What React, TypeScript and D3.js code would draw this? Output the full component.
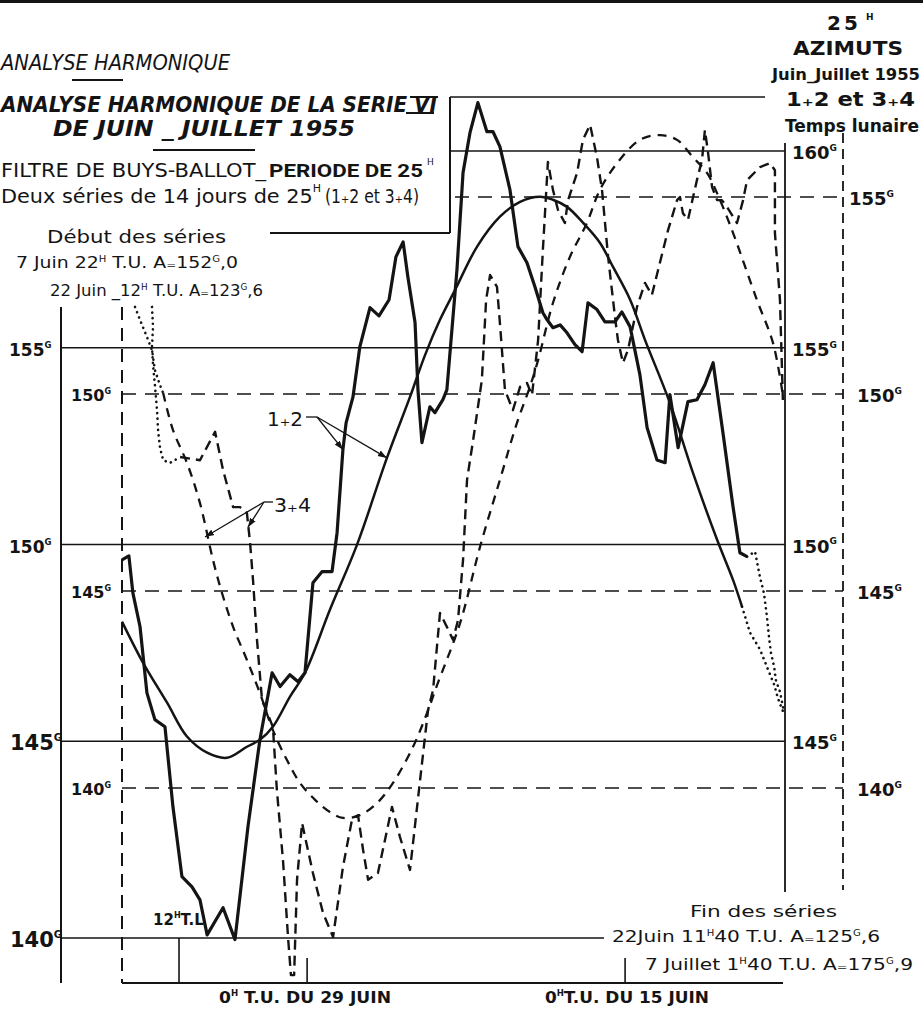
import React from "react";
import * as d3 from "d3";

type P = [number, number];

// x = lunar hours since the start of the 25h period, y = azimuth in grades
// Series 1+2 (left / solid scale)
const obs12: P[] = [
  [0, 149.61], [0.26, 149.71], [0.41, 148.77], [0.68, 147.91], [0.94, 146.23], [1.24, 145.55],
  [1.62, 145.37], [1.92, 143.34], [2.26, 141.56], [2.64, 141.3], [2.94, 140.97], [3.21, 140.08],
  [3.81, 140.77], [4.26, 139.96], [4.75, 142.83], [5.2, 145.04], [5.66, 146.74], [5.96, 146.39],
  [6.33, 146.69], [6.64, 146.51], [6.9, 146.74], [7.2, 149.03], [7.54, 149.31], [7.92, 149.31],
  [8.11, 150.3], [8.33, 152.41], [8.45, 153.09], [8.71, 153.75], [8.97, 155.03], [9.35, 156.02],
  [9.69, 155.81], [10.07, 156.22], [10.33, 157.31], [10.6, 157.69], [10.78, 156.8], [11.05, 155.64],
  [11.16, 153.93], [11.31, 152.59], [11.61, 153.5], [11.8, 153.35], [12.1, 153.68], [12.25, 153.93],
  [12.63, 156.98], [12.86, 159.45], [13.12, 160.46], [13.42, 161.23], [13.76, 160.49], [13.99, 160.49],
  [14.25, 160.11], [14.63, 159.01], [14.93, 157.57], [15.27, 157.16], [15.57, 156.55], [15.87, 155.89],
  [16.03, 155.71], [16.25, 155.51], [16.52, 155.58], [16.78, 155.38], [17.08, 155.08], [17.35, 154.9],
  [17.57, 156.14], [17.91, 155.97], [18.21, 155.66], [18.59, 155.66], [18.85, 155.91], [19.16, 155.53],
  [19.53, 154.31], [19.8, 152.97], [20.17, 152.15], [20.48, 152.08], [20.66, 153.81], [20.97, 152.46],
  [21.34, 153.63], [21.68, 153.68], [21.98, 154.06], [22.29, 154.62], [22.66, 152.84], [23.04, 150.96],
  [23.3, 149.79], [23.57, 149.69],
];
const obs12End: P[] = [
  [23.57, 149.69], [23.87, 149.82], [24.06, 149.16], [24.21, 148.75], [24.32, 148.16], [24.4, 147.63],
  [24.47, 147.25], [24.59, 146.89], [24.66, 146.54], [24.81, 146.26], [24.96, 145.75],
];
const fit12: P[] = [
  [0, 148.04], [0.79, 147.0], [1.7, 145.98], [2.45, 145.12], [3.21, 144.71], [3.96, 144.58],
  [4.71, 144.86], [5.2, 145.04], [5.69, 145.37], [6.33, 146.13], [6.9, 146.74], [7.84, 148.34],
  [8.86, 149.99], [9.99, 152.2], [10.86, 153.75], [11.43, 154.82], [11.99, 155.71], [12.56, 156.47],
  [13.39, 157.57], [14.25, 158.33], [15.01, 158.71], [15.76, 158.84], [16.25, 158.76], [16.78, 158.58],
  [17.38, 158.18], [18.02, 157.67], [18.51, 157.06], [19.16, 156.22], [19.72, 155.2], [20.66, 153.6],
  [21.53, 151.82], [22.44, 150.12], [23.04, 149.1], [23.38, 148.42],
];
const fit12End: P[] = [
  [23.38, 148.42], [23.68, 147.76], [24.06, 147.33], [24.32, 146.89], [24.59, 146.44], [24.74, 146.08],
  [24.96, 145.7],
];

// Series 3+4 (inner / dashed scale)
const obs34Start: P[] = [
  [1.13, 152.21], [1.17, 151.7], [1.13, 151.19], [1.17, 150.74], [1.24, 150.23], [1.32, 149.59],
  [1.36, 149.09], [1.43, 148.65], [1.55, 148.32], [1.81, 148.25], [2.19, 148.4],
];
const obs34: P[] = [
  [2.19, 148.4], [2.94, 148.32], [3.51, 149.04], [3.81, 148.07], [4.19, 147.13], [4.45, 147.13],
  [4.71, 146.98], [4.83, 146.22], [4.94, 145.28], [5.09, 143.76], [5.28, 142.23], [5.69, 141.55],
  [5.84, 139.95], [6.07, 138.17], [6.26, 136.22], [6.37, 135.25], [6.49, 135.25], [6.6, 137.67],
  [6.79, 139.11], [7.2, 137.84], [7.58, 136.83], [7.96, 136.22], [8.33, 137.99], [8.67, 139.19],
  [8.9, 139.31], [9.09, 138.43], [9.28, 137.67], [9.65, 137.84], [10.18, 139.52], [10.48, 138.76],
  [10.86, 137.92], [11.24, 140.2], [11.54, 141.98], [11.73, 142.49], [11.99, 144.44], [12.25, 144.09],
  [12.48, 143.76], [12.67, 144.26], [12.86, 145.79], [13.01, 147.82], [13.24, 148.83], [13.57, 150.36],
  [13.73, 152.39], [13.88, 153.02], [14.14, 152.72], [14.25, 151.8], [14.44, 150.1], [14.74, 149.59],
  [15.01, 150.18], [15.27, 150.28], [15.46, 149.97], [15.69, 151.37], [15.87, 153.65], [16.06, 155.89],
  [16.25, 155.18], [16.44, 154.67], [16.7, 154.34], [16.82, 154.92], [17.16, 155.61], [17.38, 156.45],
  [17.65, 156.83], [17.91, 156.01], [18.1, 155.18], [18.33, 153.48], [18.59, 151.95], [18.7, 151.37],
  [18.89, 150.79], [19.08, 151.12], [19.42, 152.21], [19.72, 152.82], [19.98, 152.51], [20.29, 153.35],
  [20.59, 154.16], [20.93, 154.92], [21.04, 155.0], [21.15, 154.59], [21.34, 154.42], [21.68, 155.43],
  [21.87, 155.94], [21.98, 156.7], [22.1, 156.12], [22.25, 155.25], [22.44, 154.92], [22.62, 154.92],
  [22.81, 154.75], [23.19, 154.34], [23.42, 154.92], [23.57, 155.43], [24.06, 155.76], [24.43, 155.86],
  [24.62, 155.68], [24.62, 154.09], [24.81, 152.39], [24.92, 149.85],
];
const fit34Start: P[] = [
  [0.49, 152.21], [0.68, 151.88], [0.94, 151.45], [1.13, 151.12], [1.24, 150.61], [1.43, 150.23],
  [1.55, 150.03],
];
const fit34: P[] = [
  [1.55, 150.03], [1.92, 149.09], [2.45, 148.25], [2.94, 147.23], [3.43, 145.79], [3.77, 144.95],
  [4.19, 144.09], [4.71, 143.25], [5.2, 142.41], [5.69, 141.47], [6.22, 140.71], [6.71, 140.13],
  [7.28, 139.7], [7.84, 139.39], [8.33, 139.24], [8.97, 139.31], [9.62, 139.62], [10.22, 140.13],
  [10.97, 141.04], [11.5, 141.9], [11.88, 142.61], [12.75, 144.19], [13.5, 146.12], [14.25, 147.82],
  [14.89, 149.26], [15.38, 150.18], [15.69, 150.86], [16.25, 152.31], [16.89, 153.48], [17.53, 154.34],
  [18.02, 155.18], [18.67, 155.86], [19.53, 156.45], [20.29, 156.57], [20.93, 156.45], [21.53, 156.01],
  [22.06, 155.61], [22.55, 154.92], [23.04, 154.09], [23.94, 152.39], [24.55, 151.29], [24.92, 149.97],
];

const solidTicksLeft = [155, 150, 145, 140];
const solidTicksRight = [160, 155, 150, 145];
const dashTicksLeft = [150, 145, 140];
const dashTicksRight = [155, 150, 145, 140];
const timeMarks = [2.15, 6.98, 18.97]; // 12h T.L. ; 0h T.U. du 29 juin ; 0h T.U. du 15 juin

const F = "'DejaVu Sans', sans-serif";
const INK = "#141414";

export default function App() {
  const x = d3.scaleLinear().domain([0, 25]).range([122, 785]);
  const yS = d3.scaleLinear().domain([140, 160]).range([938, 151]);
  const yD = d3.scaleLinear().domain([140, 155]).range([788, 197]);

  const lS = d3.line<P>().x((d) => x(d[0])).y((d) => yS(d[1]));
  const lD = d3.line<P>().x((d) => x(d[0])).y((d) => yD(d[1]));
  const sS = d3.line<P>().x((d) => x(d[0])).y((d) => yS(d[1])).curve(d3.curveCatmullRom.alpha(0.5));
  const sD = d3.line<P>().x((d) => x(d[0])).y((d) => yD(d[1])).curve(d3.curveCatmullRom.alpha(0.5));

  const tickLabel = (v: number, tx: number, ty: number, fs: number, weight: string | number = "bold") => (
    <text key={`${tx}-${v}`} x={tx} y={ty} fontSize={fs} fontWeight={weight} fontFamily={F} fill={INK}>
      {v}
      <tspan fontSize={fs * 0.5} dy={-fs * 0.45}>G</tspan>
    </text>
  );

  const dotted = { fill: "none", stroke: INK, strokeWidth: 2.6, strokeDasharray: "0.1 5.5", strokeLinecap: "round" as const };

  // annotation targets (on the curves)
  const a12a: P = [8.33, 152.41];
  const a12b: P = [9.99, 152.2];
  const a34a: P = [3.13, 146.37];
  const a34b: P = [4.75, 146.62];

  return (
    <svg width={923} height={1009} style={{ position: "absolute", left: 0, top: 0, display: "block", background: "#fff" }} fontFamily={F}>
      <defs>
        <marker id="arr" viewBox="0 0 10 10" refX="10" refY="5" markerWidth="7" markerHeight="7" orient="auto">
          <path d="M0,1.5 L10,5 L0,8.5 z" fill={INK} />
        </marker>
      </defs>
      <rect x={0} y={0} width={923} height={1009} fill="#fff" />
      <rect x={0} y={0} width={923} height={3} fill={INK} />

      {/* Title block */}
      <text x={1} y={70} fontSize={21} fontStyle="italic" fill={INK} textLength={229} lengthAdjust="spacingAndGlyphs">ANALYSE HARMONIQUE</text>
      <line x1={72} x2={123} y1={80} y2={80} stroke={INK} strokeWidth={2.2} />
      <text x={1} y={112} fontSize={21} fontStyle="italic" fontWeight="bold" fill={INK} textLength={436} lengthAdjust="spacingAndGlyphs">ANALYSE HARMONIQUE DE LA SERIE VI</text>
      <line x1={410} x2={438} y1={97} y2={97} stroke={INK} strokeWidth={2} />
      <line x1={406} x2={434} y1={113} y2={113} stroke={INK} strokeWidth={2} />
      <text x={53} y={136} fontSize={21} fontStyle="italic" fontWeight="bold" fill={INK} textLength={302} lengthAdjust="spacingAndGlyphs">DE JUIN _ JUILLET 1955</text>
      <line x1={153} x2={255} y1={150} y2={150} stroke={INK} strokeWidth={2.2} />
      <text x={1} y={177} fontSize={19} fill={INK} textLength={265} lengthAdjust="spacingAndGlyphs">FILTRE DE BUYS-BALLOT_</text>
      <text x={269} y={177} fontSize={19} fontWeight="bold" fontFamily="Roboto, 'DejaVu Sans', sans-serif" fill={INK} textLength={154} lengthAdjust="spacingAndGlyphs">PERIODE DE 25</text>
      <text x={427} y={165} fontSize={9} fill={INK}>H</text>
      <text x={1} y={203} fontSize={19} fill={INK} textLength={320} lengthAdjust="spacingAndGlyphs">
        Deux séries de 14 jours de 25<tspan fontSize={10} dy={-11}>H</tspan>
      </text>
      <text x={325} y={203} fontSize={19} fill={INK} textLength={94} lengthAdjust="spacingAndGlyphs">(1₊2 et 3₊4)</text>

      {/* Box lines */}
      <line x1={450} x2={450} y1={97} y2={233} stroke={INK} strokeWidth={2} />
      <line x1={270} x2={450} y1={233} y2={233} stroke={INK} strokeWidth={2} />
      <line x1={450} x2={765} y1={97} y2={97} stroke={INK} strokeWidth={1.6} />

      {/* Right title */}
      <text x={827} y={30} fontSize={20} fontWeight="bold" fill={INK} letterSpacing={3}>25</text>
      <text x={866} y={20} fontSize={9} fontWeight="bold" fill={INK}>H</text>
      <text x={793} y={55} fontSize={20} fontWeight="bold" fill={INK} textLength={110} lengthAdjust="spacingAndGlyphs">AZIMUTS</text>
      <text x={772} y={80} fontSize={15} fontWeight="bold" fill={INK} textLength={148} lengthAdjust="spacingAndGlyphs">Juin_Juillet 1955</text>
      <text x={786} y={106} fontSize={20} fontWeight="bold" fill={INK} textLength={129} lengthAdjust="spacingAndGlyphs">1₊2 et 3₊4</text>
      <text x={785} y={132} fontSize={17} fontWeight="bold" fill={INK} textLength={134} lengthAdjust="spacingAndGlyphs">Temps lunaire</text>

      {/* Start notes */}
      <text x={47} y={243} fontSize={17} fill={INK} textLength={179} lengthAdjust="spacingAndGlyphs">Début des séries</text>
      <text x={16} y={268} fontSize={15} fill={INK} textLength={222} lengthAdjust="spacingAndGlyphs">
        7 Juin 22<tspan fontSize={8} dy={-6}>H</tspan>
        <tspan dy={6}> T.U.  A₌152</tspan>
        <tspan fontSize={8} dy={-6}>G</tspan>
        <tspan dy={6}>,0</tspan>
      </text>
      <text x={50} y={296} fontSize={15} fill={INK} textLength={213} lengthAdjust="spacingAndGlyphs">
        22 Juin _12<tspan fontSize={8} dy={-6}>H</tspan>
        <tspan dy={6}> T.U. A₌123</tspan>
        <tspan fontSize={8} dy={-6}>G</tspan>
        <tspan dy={6}>,6</tspan>
      </text>

      {/* Axes */}
      <line x1={61} x2={61} y1={307} y2={983} stroke={INK} strokeWidth={2} />
      <line x1={122} x2={122} y1={307} y2={983} stroke={INK} strokeWidth={2} strokeDasharray="13 8" />
      <line x1={122} x2={783} y1={983} y2={983} stroke={INK} strokeWidth={1.8} />
      <line x1={785} x2={785} y1={143} y2={892} stroke={INK} strokeWidth={1.8} />
      <line x1={843} x2={843} y1={133} y2={890} stroke={INK} strokeWidth={1.8} strokeDasharray="10 6" />
      {timeMarks.map((t, i) => (
        <line key={i} x1={x(t)} x2={x(t)} y1={i === 0 ? 938 : 958} y2={983} stroke={INK} strokeWidth={1.6} />
      ))}

      {/* Solid gridlines (1+2 scale) */}
      {solidTicksLeft.map((v) => (
        <line key={`sg${v}`} x1={61} x2={v === 140 ? 604 : 785} y1={yS(v)} y2={yS(v)} stroke={INK} strokeWidth={1.6} />
      ))}
      <line x1={450} x2={785} y1={yS(160)} y2={yS(160)} stroke={INK} strokeWidth={1.6} />
      {/* Dashed gridlines (3+4 scale) */}
      {dashTicksLeft.map((v) => (
        <line key={`dg${v}`} x1={122} x2={843} y1={yD(v)} y2={yD(v)} stroke={INK} strokeWidth={1.6} strokeDasharray="14 9" />
      ))}
      <line x1={455} x2={843} y1={yD(155)} y2={yD(155)} stroke={INK} strokeWidth={1.6} strokeDasharray="14 9" />

      {/* Tick labels */}
      {solidTicksLeft.map((v) => tickLabel(v, v >= 150 ? 9 : 10, yS(v) + (v >= 150 ? 8 : 9), v >= 150 ? 17 : 21, v >= 150 ? "bold" : 600))}
      {dashTicksLeft.map((v) => tickLabel(v, 71, yD(v) + 7, 16))}
      {solidTicksRight.map((v) => tickLabel(v, 792, yS(v) + 8, 18))}
      {dashTicksRight.map((v) => tickLabel(v, v === 155 ? 849 : 857, yD(v) + 8, 18))}

      {/* Curves */}
      <path d={lS(obs12) || ""} fill="none" stroke={INK} strokeWidth={3.2} strokeLinejoin="round" />
      <path d={lS(obs12End) || ""} {...dotted} />
      <path d={sS(fit12) || ""} fill="none" stroke={INK} strokeWidth={2.5} />
      <path d={lS(fit12End) || ""} {...dotted} />
      <path d={lD(obs34Start) || ""} {...dotted} />
      <path d={lD(obs34) || ""} fill="none" stroke={INK} strokeWidth={2.4} strokeDasharray="10 6" strokeLinejoin="round" />
      <path d={lD(fit34Start) || ""} {...dotted} />
      <path d={sD(fit34) || ""} fill="none" stroke={INK} strokeWidth={2.3} strokeDasharray="9 7" />

      {/* Annotations */}
      <text x={267} y={426} fontSize={20} fill={INK} textLength={36} lengthAdjust="spacingAndGlyphs">1₊2</text>
      <line x1={306} x2={317} y1={417} y2={417} stroke={INK} strokeWidth={1.3} />
      <line x1={317} y1={417} x2={x(a12a[0])} y2={yS(a12a[1])} stroke={INK} strokeWidth={1.3} markerEnd="url(#arr)" />
      <line x1={317} y1={417} x2={x(a12b[0])} y2={yS(a12b[1])} stroke={INK} strokeWidth={1.3} markerEnd="url(#arr)" />
      <text x={274} y={512} fontSize={20} fill={INK} textLength={37} lengthAdjust="spacingAndGlyphs">3₊4</text>
      <line x1={264} x2={273} y1={502} y2={502} stroke={INK} strokeWidth={1.3} />
      <line x1={264} y1={502} x2={x(a34a[0])} y2={yD(a34a[1])} stroke={INK} strokeWidth={1.3} markerEnd="url(#arr)" />
      <line x1={264} y1={502} x2={x(a34b[0])} y2={yD(a34b[1])} stroke={INK} strokeWidth={1.3} markerEnd="url(#arr)" />
      <text x={153} y={925} fontSize={15} fontWeight="bold" fill={INK}>
        12<tspan fontSize={8} dy={-7}>H</tspan><tspan dy={7}>T.L</tspan>
      </text>

      {/* End notes */}
      <text x={690} y={917} fontSize={16} fill={INK} textLength={147} lengthAdjust="spacingAndGlyphs">Fin des séries</text>
      <text x={612} y={942} fontSize={16} fill={INK} textLength={268} lengthAdjust="spacingAndGlyphs">
        22Juin  11<tspan fontSize={8} dy={-6}>H</tspan>
        <tspan dy={6}>40 T.U. A₌125</tspan>
        <tspan fontSize={8} dy={-6}>G</tspan>
        <tspan dy={6}>,6</tspan>
      </text>
      <text x={645} y={970} fontSize={16} fill={INK} textLength={268} lengthAdjust="spacingAndGlyphs">
        7 Juillet  1<tspan fontSize={8} dy={-6}>H</tspan>
        <tspan dy={6}>40 T.U. A₌175</tspan>
        <tspan fontSize={8} dy={-6}>G</tspan>
        <tspan dy={6}>,9</tspan>
      </text>

      {/* Bottom labels */}
      <text x={219} y={1003} fontSize={16} fontWeight="bold" fill={INK} textLength={172} lengthAdjust="spacingAndGlyphs">
        0<tspan fontSize={8} dy={-7}>H</tspan><tspan dy={7}> T.U. DU 29 JUIN</tspan>
      </text>
      <text x={545} y={1003} fontSize={16} fontWeight="bold" fill={INK} textLength={164} lengthAdjust="spacingAndGlyphs">
        0<tspan fontSize={8} dy={-7}>H</tspan><tspan dy={7}>T.U. DU 15 JUIN</tspan>
      </text>
    </svg>
  );
}
